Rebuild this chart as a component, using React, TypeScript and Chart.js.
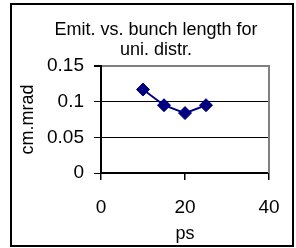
import React, { useEffect, useRef } from "react";
import { Chart, registerables } from "chart.js";

Chart.register(...registerables);

const TITLE_LINES = ["Emit. vs. bunch length for", "uni. distr."];
const X_TITLE = "ps";
const Y_TITLE = "cm.mrad";
const BUNCH_LENGTH_PS = [10, 15, 20, 25];
const EMITTANCE = [0.117, 0.095, 0.084, 0.095];
const X_MIN = 0;
const X_MAX = 40;
const X_STEP = 20;
const Y_MIN = 0;
const Y_MAX = 0.15;
const Y_STEP = 0.05;

const FONT = "'Liberation Sans', Arial, sans-serif";
const W = 296;
const H = 248;

const framePlugin = {
  id: "frame",
  beforeDraw(chart: any) {
    const { ctx } = chart;
    ctx.save();
    ctx.fillStyle = "#ffffff";
    ctx.fillRect(0, 0, W, H);
    ctx.restore();
  },
  afterDraw(chart: any) {
    const { ctx, chartArea: a } = chart;
    ctx.save();
    ctx.strokeStyle = "#808080";
    ctx.lineWidth = 2;
    ctx.beginPath();
    ctx.moveTo(a.right, a.top - 1);
    ctx.lineTo(a.right, a.bottom);
    ctx.stroke();
    ctx.strokeStyle = "#000000";
    ctx.lineWidth = 2;
    ctx.strokeRect(11, 4, 282, 242);
    ctx.fillStyle = "#000000";
    ctx.font = `18px ${FONT}`;
    ctx.textAlign = "center";
    ctx.textBaseline = "alphabetic";
    TITLE_LINES.forEach((t, i) => ctx.fillText(t, 156, 35 + i * 20));
    ctx.restore();
  },
};

const fmt = (v: any) => String(Number(Number(v).toFixed(3)));

export default function App() {
  const ref = useRef<HTMLCanvasElement | null>(null);
  useEffect(() => {
    if (!ref.current) return;
    const chart = new Chart(ref.current, {
      type: "scatter",
      data: {
        datasets: [
          {
            data: BUNCH_LENGTH_PS.map((x, i) => ({ x, y: EMITTANCE[i] })),
            borderColor: "#000080",
            backgroundColor: "#000080",
            borderWidth: 2,
            pointStyle: "rectRot",
            pointRadius: 6.5,
            pointBorderWidth: 1,
            showLine: true,
            tension: 0,
          } as any,
        ],
      },
      options: {
        animation: false,
        responsive: false,
        devicePixelRatio: 1,
        layout: { padding: { left: 0, right: 27, top: 66, bottom: 3 } },
        plugins: {
          legend: { display: false },
          tooltip: { enabled: false },
          title: { display: false },
        },
        scales: {
          x: {
            type: "linear",
            min: X_MIN,
            max: X_MAX,
            ticks: {
              stepSize: X_STEP,
              color: "#000",
              font: { family: FONT, size: 19 },
              padding: 16,
              maxRotation: 0,
              callback: fmt,
            },
            grid: {
              drawOnChartArea: false,
              color: "#000",
              tickColor: "#000",
              tickLength: 7,
              lineWidth: 1.5,
            },
            border: { color: "#000", width: 2 },
            title: {
              display: true,
              text: X_TITLE,
              color: "#000",
              font: { family: FONT, size: 18 },
              padding: { top: 0, bottom: 0 },
            },
            afterFit(s: any) {
              s.height = H - 3 - 173;
            },
          },
          y: {
            type: "linear",
            min: Y_MIN,
            max: Y_MAX,
            ticks: {
              stepSize: Y_STEP,
              color: "#000",
              font: { family: FONT, size: 19 },
              padding: 10,
              callback: fmt,
            },
            grid: {
              color: (c: any) => (c.tick && c.tick.value > Y_MAX - 0.001 ? "#808080" : "#000"),
              lineWidth: (c: any) => (c.tick && c.tick.value > Y_MAX - 0.001 ? 2 : 1),
              tickColor: "#000",
              tickLength: 7,
            },
            border: { color: "#000", width: 2 },
            title: {
              display: true,
              text: Y_TITLE,
              color: "#000",
              font: { family: FONT, size: 18 },
              padding: { top: 17, bottom: 0 },
            },
            afterFit(s: any) {
              s.width = 101;
            },
          },
        },
      } as any,
      plugins: [framePlugin],
    });
    return () => chart.destroy();
  }, []);
  return (
    <div style={{ position: "fixed", left: 0, top: 0, width: W, height: H, background: "#fff" }}>
      <canvas ref={ref} width={W} height={H} style={{ display: "block" }} />
    </div>
  );
}
